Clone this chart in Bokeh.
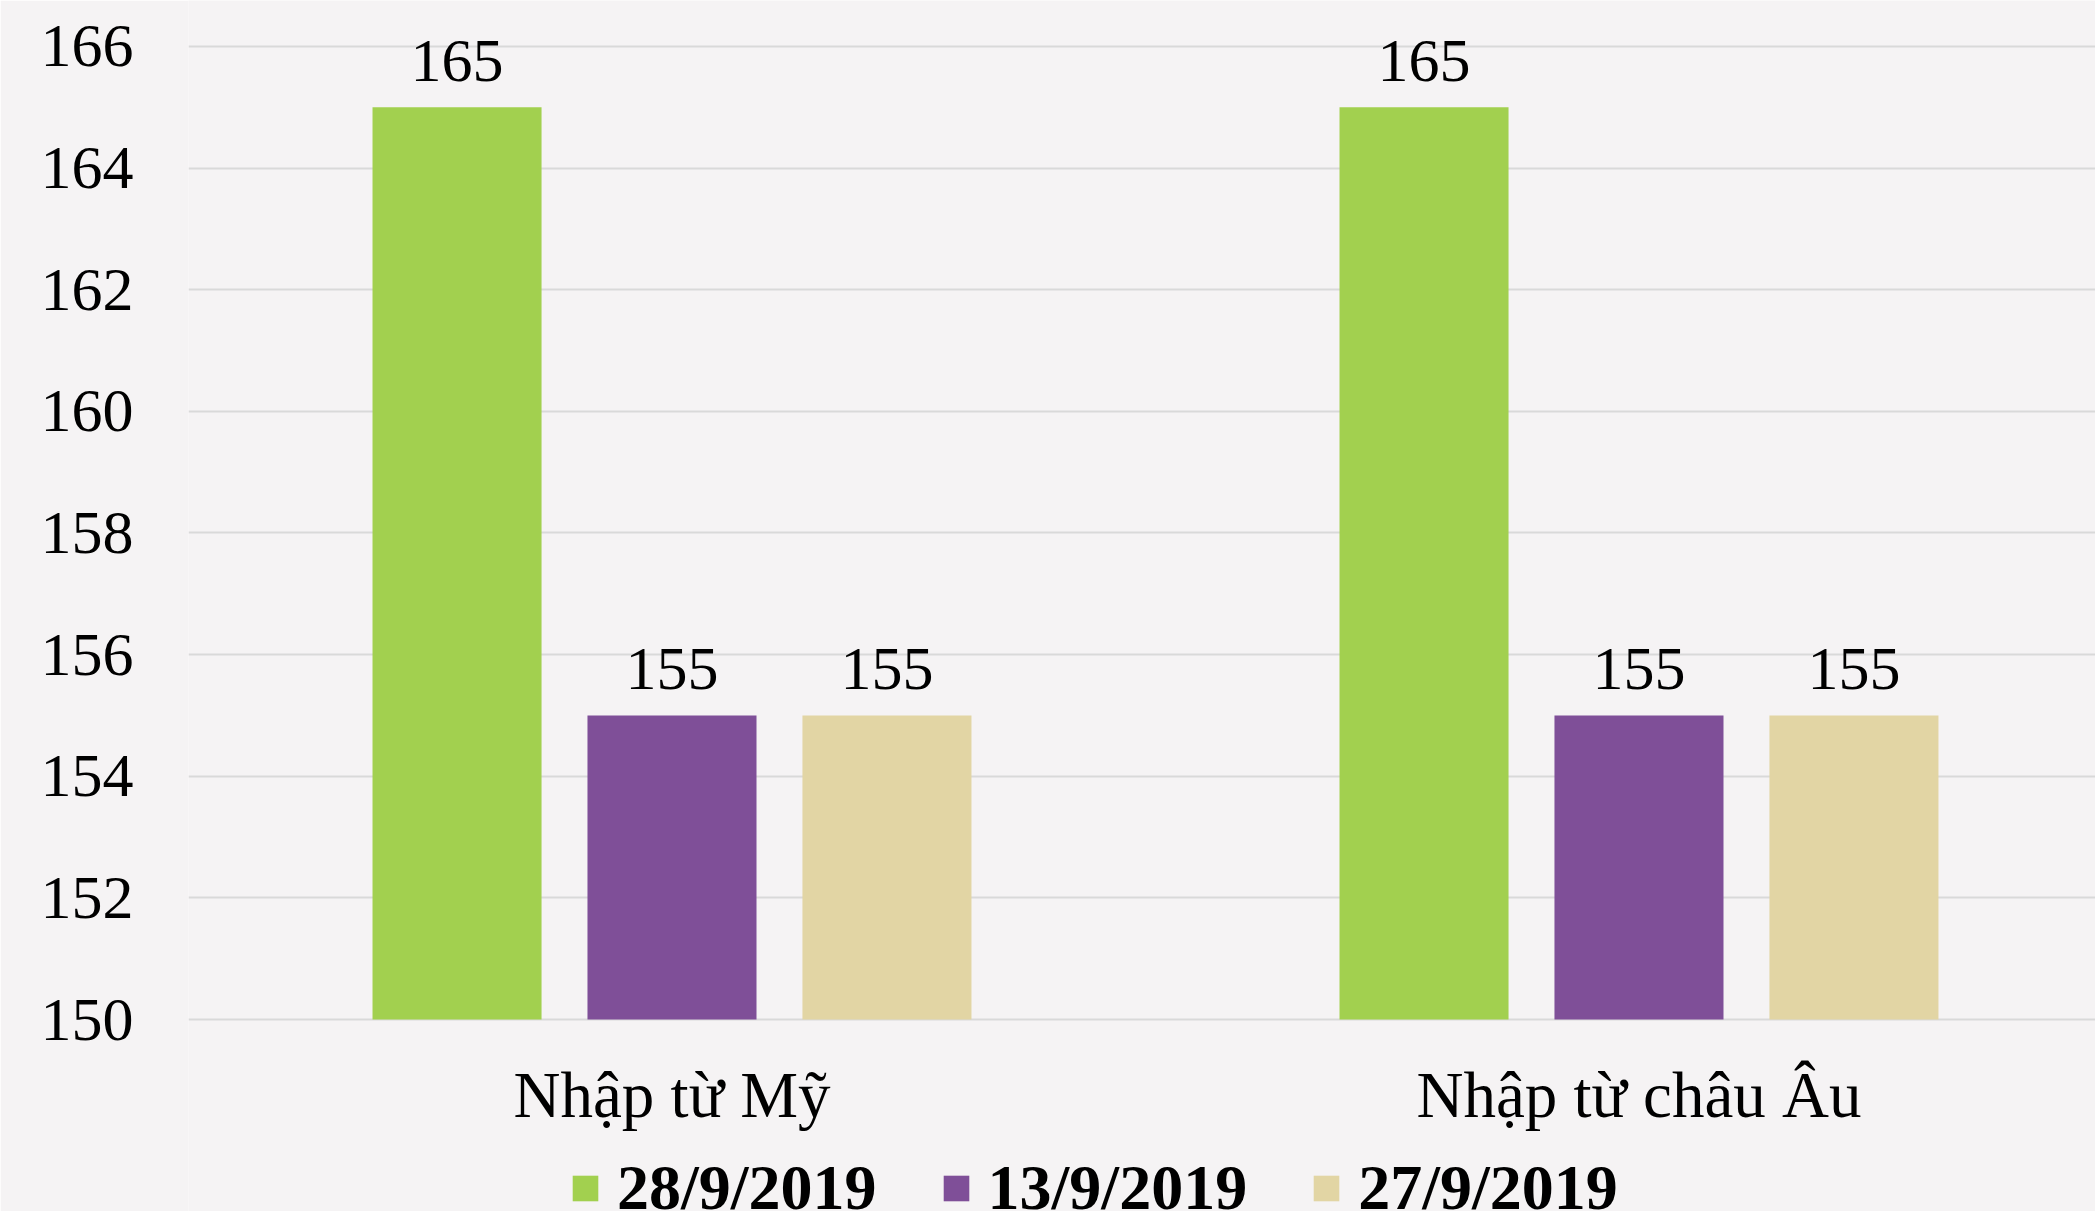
from bokeh.plotting import figure
from bokeh.models import ColumnDataSource, Range1d, FixedTicker
from bokeh.transform import dodge
from bokeh.core.properties import value
from bokeh.embed import file_html
from bokeh.resources import INLINE

# ---- data ----
categories = ["Nhập từ Mỹ", "Nhập từ châu Âu"]
series_names = ["28/9/2019", "13/9/2019", "27/9/2019"]
v_28_9 = [165, 165]
v_13_9 = [155, 155]
v_27_9 = [155, 155]
y_ticks = [150, 152, 154, 156, 158, 160, 162, 164, 166]

colors = ["#A2D04F", "#7F4F98", "#E2D5A4"]
series_values = [v_28_9, v_13_9, v_27_9]
FONT = "Liberation Serif"
BG = "#f5f3f4"

data = dict(gx=list(range(len(categories))))
keys = []
for i, vals in enumerate(series_values):
    k = f"s{i}"
    keys.append(k)
    data[k] = vals
    data[k + "_lbl"] = [str(v) for v in vals]
source = ColumnDataSource(data)

W, H = 2095, 1211
p = figure(width=W, height=H, output_backend="svg", toolbar_location=None,
           x_range=Range1d(-0.5, 1.4721), y_range=Range1d(146.843, 166.756),
           min_border_left=188, min_border_right=0, min_border_top=0,
           min_border_bottom=0)
p.background_fill_color = BG
p.border_fill_color = BG
p.outline_line_color = None

offsets = [-0.2223, 0.0, 0.2223]
bar_w = 0.1748
for k, name, col, off in zip(keys, series_names, colors, offsets):
    p.vbar(x=dodge("gx", off, range=p.x_range), top=k, bottom=y_ticks[0],
           width=bar_w, color=col, line_color=None, source=source,
           legend_label=name)
    p.text(x=dodge("gx", off, range=p.x_range), y=k, text=k + "_lbl",
           source=source, text_align="center", text_baseline="alphabetic",
           y_offset=-46, text_font=value(FONT), text_font_size="62px",
           text_color="#000000")

# axes
p.yaxis.ticker = FixedTicker(ticks=y_ticks)
p.yaxis.axis_line_color = None
p.yaxis.major_tick_line_color = None
p.yaxis.minor_tick_line_color = None
p.yaxis.major_tick_out = 0
p.yaxis.major_tick_in = 0
p.yaxis.major_label_standoff = 55
p.yaxis.major_label_text_font = FONT
p.yaxis.major_label_text_font_size = "62px"
p.yaxis.major_label_text_color = "#000000"

p.xaxis.fixed_location = y_ticks[0]
p.xaxis.ticker = FixedTicker(ticks=list(range(len(categories))))
p.xaxis.major_label_overrides = {i: c for i, c in enumerate(categories)}
p.xaxis.axis_line_color = None
p.xaxis.major_tick_line_color = None
p.xaxis.minor_tick_line_color = None
p.xaxis.major_tick_out = 0
p.xaxis.major_tick_in = 0
p.xaxis.major_label_standoff = 39
p.xaxis.major_label_text_font = FONT
p.xaxis.major_label_text_font_size = "65px"
p.xaxis.major_label_text_color = "#000000"

p.xgrid.grid_line_color = None
p.ygrid.grid_line_color = "#d9d9d9"
p.ygrid.grid_line_width = 2

# legend
lg = p.legend[0]
lg.orientation = "horizontal"
lg.location = (381, -14)
lg.padding = 0
lg.margin = 0
lg.spacing = 63
lg.label_standoff = 16
lg.glyph_width = 32
lg.glyph_height = 32
lg.border_line_color = None
lg.background_fill_alpha = 0
lg.label_text_font = FONT
lg.label_text_font_size = "64px"
lg.label_text_font_style = "bold"
lg.label_text_color = "#000000"

open("out.html", "w").write(file_html(p, INLINE))
